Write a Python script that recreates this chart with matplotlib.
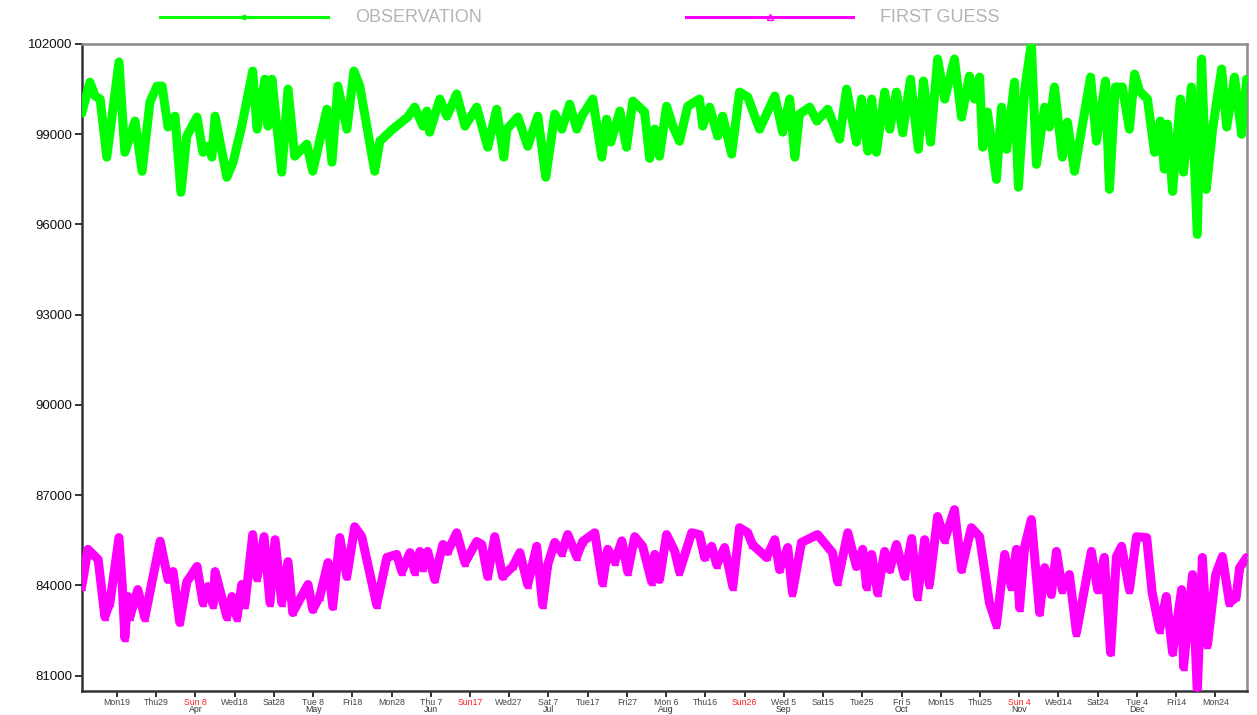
import numpy as np
import pandas as pd
import matplotlib
matplotlib.use("Agg")
import matplotlib.pyplot as plt
from matplotlib.lines import Line2D

plt.rcParams['font.family'] = ['Liberation Sans', 'DejaVu Sans']

# ---------------- data ----------------
start_date = "2018-03-10"
end_date = "2019-01-01"

# days since start_date, observation series (Pa)
obs_day = [0.0, 2.1, 3.4, 4.7, 6.4, 9.5, 11.0, 13.6, 15.4, 17.4,
           19.2, 20.5, 22.0, 23.8, 25.3, 26.8, 29.4, 30.9, 32.2, 33.2,
           34.0, 37.0, 38.6, 40.8, 43.6, 44.7, 46.7, 47.5, 48.5, 51.0,
           52.6, 54.3, 57.4, 58.9, 62.5, 63.8, 65.3, 67.6, 69.4, 70.9,
           74.7, 76.0, 79.3, 83.1, 84.9, 87.0, 88.0, 88.7, 91.3, 93.1,
           95.6, 97.7, 100.7, 103.5, 105.8, 107.6, 108.4, 111.2, 113.7, 116.3,
           118.3, 120.6, 122.4, 124.4, 126.2, 127.5, 130.3, 132.6, 133.8, 134.9,
           137.2, 138.9, 140.5, 143.5, 144.8, 146.1, 147.3, 149.1, 150.7, 152.4,
           154.5, 157.5, 158.3, 160.1, 162.1, 163.4, 165.7, 167.7, 169.8, 172.8,
           176.7, 178.7, 180.5, 181.8, 183.0, 185.6, 187.4, 190.2, 193.2, 195.0,
           197.5, 198.8, 200.4, 201.4, 202.6, 204.7, 206.0, 207.7, 209.3, 211.3,
           213.3, 214.6, 216.4, 218.2, 220.0, 222.5, 224.3, 226.3, 227.6, 228.9,
           229.7, 230.9, 233.2, 234.5, 235.8, 237.8, 238.8, 240.4, 242.1, 243.4,
           245.5, 246.7, 248.0, 250.0, 251.3, 253.1, 257.2, 258.7, 260.0, 261.0,
           262.0, 263.5, 265.3, 267.1, 268.4, 269.7, 271.7, 273.5, 275.0, 276.0,
           276.8, 278.1, 280.1, 280.9, 282.9, 284.4, 285.5, 286.7, 288.3, 290.6,
           291.9, 293.9, 295.7, 297.0]
obs_val = [99700, 100730, 100270, 100170, 98240, 101400, 98400, 99440, 97770, 100070,
           100600, 100600, 99240, 99600, 97070, 98940, 99570, 98400, 98600, 98240,
           99600, 97570, 98070, 99270, 101100, 99170, 100830, 99270, 100830, 97740,
           100500, 98270, 98670, 97770, 99830, 98070, 100600, 99170, 101100, 100600,
           97770, 98770, 99170, 99570, 99900, 99270, 99770, 99070, 100170, 99600,
           100340, 99270, 99900, 98570, 99830, 98240, 99170, 99570, 98600, 99600,
           97570, 99670, 99170, 100000, 99170, 99600, 100170, 98240, 99500, 98740,
           99770, 98570, 100100, 99740, 98200, 99170, 98270, 99930, 99270, 98770,
           99930, 100170, 99270, 99900, 98940, 99600, 98340, 100400, 100240, 99170,
           100270, 99070, 100170, 98240, 99670, 99900, 99440, 99830, 98840, 100500,
           98740, 100170, 98440, 100170, 98400, 100400, 99170, 100400, 99050, 100830,
           98500, 100770, 98740, 101500, 100170, 101500, 99570, 100930, 100170, 100900,
           98570, 99740, 97500, 99900, 98500, 100730, 97240, 100500, 102000, 98000,
           99900, 99240, 100570, 98240, 99400, 97770, 100900, 98770, 99930, 100770,
           97170, 100570, 100570, 99170, 101000, 100430, 100170, 98400, 99440, 97840,
           99340, 97100, 100170, 97740, 100570, 95670, 101500, 97170, 99170, 101170,
           99240, 100900, 99000, 100830]

# days since start_date, first guess series (Pa)
fg_day = [0.0, 1.6, 4.2, 5.9, 7.2, 9.5, 10.3, 11.0, 11.8, 12.3,
          14.3, 16.1, 20.0, 22.0, 23.3, 25.0, 26.8, 29.4, 30.9, 32.2,
          33.5, 34.0, 37.0, 38.3, 39.6, 40.8, 41.6, 43.6, 44.7, 46.5,
          48.0, 49.3, 51.0, 52.6, 53.8, 57.7, 58.9, 60.7, 62.8, 64.0,
          65.8, 67.6, 69.6, 71.4, 75.2, 77.8, 80.3, 81.6, 83.7, 84.9,
          86.2, 87.0, 88.2, 90.0, 90.8, 92.1, 93.3, 95.6, 97.7, 100.7,
          102.0, 103.5, 105.3, 107.3, 109.9, 111.7, 113.7, 116.0, 117.5, 118.8,
          120.6, 122.4, 123.9, 126.2, 127.7, 130.8, 132.8, 134.1, 135.9, 137.7,
          139.2, 141.0, 143.0, 145.3, 146.1, 147.3, 149.1, 151.2, 152.4, 155.5,
          157.5, 158.8, 160.6, 161.9, 163.9, 166.0, 167.7, 169.8, 171.0, 174.6,
          176.7, 177.9, 180.0, 181.2, 183.5, 187.6, 191.4, 192.7, 195.3, 197.5,
          199.1, 200.1, 201.4, 202.9, 204.7, 206.0, 207.7, 209.8, 211.6, 213.1,
          214.9, 216.1, 218.2, 220.0, 222.5, 224.3, 226.8, 228.9, 231.4, 233.2,
          235.3, 237.0, 238.3, 239.1, 240.4, 242.1, 244.2, 245.5, 247.2, 248.5,
          250.0, 251.8, 253.6, 257.4, 259.0, 260.7, 262.3, 263.8, 265.1, 267.1,
          268.9, 271.5, 272.9, 274.8, 276.5, 278.1, 280.4, 280.9, 283.2, 284.4,
          285.7, 287.0, 289.1, 290.8, 292.6, 294.3, 295.2, 297.0]
fg_val = [83960, 85200, 84860, 82960, 83430, 85590, 84090, 82260, 83630, 82960,
          83860, 82930, 85470, 84200, 84460, 82770, 84120, 84630, 83430, 83960,
          83360, 84460, 82960, 83630, 82930, 84030, 83360, 85690, 84260, 85620,
          83430, 85520, 83430, 84790, 83100, 84030, 83200, 83630, 84760, 83300,
          85590, 84300, 85950, 85620, 83360, 84930, 85030, 84460, 85090, 84460,
          85130, 84590, 85130, 84200, 84690, 85360, 85130, 85750, 84760, 85460,
          85360, 84300, 85620, 84300, 84630, 85090, 84030, 85300, 83360, 84690,
          85430, 85090, 85690, 84960, 85460, 85750, 84090, 85200, 84790, 85480,
          84460, 85620, 85300, 84130, 85030, 84200, 85690, 85130, 84460, 85750,
          85690, 84930, 85300, 84690, 85260, 83960, 85920, 85750, 85360, 84930,
          85520, 84530, 85260, 83760, 85430, 85690, 85090, 84130, 85750, 84630,
          85200, 83960, 85030, 83760, 85130, 84530, 85360, 84300, 85560, 83630,
          85520, 84030, 86290, 85520, 86520, 84530, 85920, 85620, 83430, 82700,
          85030, 83960, 85200, 83260, 85300, 86190, 83100, 84590, 83700, 85130,
          83860, 84360, 82430, 85130, 83860, 84930, 81770, 84960, 85300, 83860,
          85620, 85590, 83760, 82530, 83630, 81770, 83860, 81300, 84360, 80430,
          84930, 82030, 84360, 84960, 83430, 83600, 84590, 84930]

series_names = ["OBSERVATION", "FIRST GUESS"]
series_colors = ["#00ff00", "#ff00ff"]

y_ticks = [81000, 84000, 87000, 90000, 93000, 96000, 99000, 102000]
first_tick_date = "2018-03-19"
tick_step_days = 10
tick_labels = ["Mon19", "Thu29", "Sun 8", "Wed18", "Sat28", "Tue 8", "Fri18", "Mon28",
               "Thu 7", "Sun17", "Wed27", "Sat 7", "Tue17", "Fri27", "Mon 6", "Thu16",
               "Sun26", "Wed 5", "Sat15", "Tue25", "Fri 5", "Mon15", "Thu25", "Sun 4",
               "Wed14", "Sat24", "Tue 4", "Fri14", "Mon24"]
month_labels = ["", "", "Apr", "", "", "May", "", "", "Jun", "", "", "Jul", "", "",
                "Aug", "", "", "Sep", "", "", "Oct", "", "", "Nov", "", "", "Dec", "", ""]

# ---------------- figure ----------------
W, H = 1257, 715
fig = plt.figure(figsize=(W / 100, H / 100), dpi=100)
ax = fig.add_axes([81.7 / W, 1 - 690.7 / H, (1246.7 - 81.7) / W, (690.7 - 44.0) / H])

t0 = pd.Timestamp(start_date)
obs_t = t0 + pd.to_timedelta(np.array(obs_day), unit="D")
fg_t = t0 + pd.to_timedelta(np.array(fg_day), unit="D")

ax.plot(obs_t, obs_val, color=series_colors[0], lw=6.5, solid_joinstyle="round",
        solid_capstyle="round", marker="o", ms=4, mec=series_colors[0], zorder=3)
ax.plot(fg_t, fg_val, color=series_colors[1], lw=6.5, solid_joinstyle="round",
        solid_capstyle="round", marker="^", ms=5, mfc="none", mec=series_colors[1], zorder=3)

ax.set_xlim(pd.Timestamp(start_date), pd.Timestamp(end_date))
ax.set_ylim(80500, 102000)

ax.set_yticks(y_ticks)
ax.set_yticklabels([str(v) for v in y_ticks], fontsize=9.5, color="#111111")

tick_dates = pd.Timestamp(first_tick_date) + pd.to_timedelta(
    np.arange(len(tick_labels)) * tick_step_days, unit="D")
ax.set_xticks(tick_dates)
ax.set_xticklabels(tick_labels, fontsize=6.3)
for lbl, txt in zip(ax.get_xticklabels(), tick_labels):
    lbl.set_color("#ff2020" if txt.startswith("Sun") else "#444444")
for d, m in zip(tick_dates, month_labels):
    if m:
        ax.annotate(m, xy=(d, 0), xycoords=("data", "axes fraction"),
                    xytext=(0, -10.2), textcoords="offset points",
                    ha="center", va="top", fontsize=6.3, color="#333333",
                    annotation_clip=False)

ax.tick_params(axis="x", direction="out", length=4, width=1.3, pad=1, color="#222222")
ax.tick_params(axis="y", direction="out", length=5, width=1.3, pad=2, color="#222222")

for side in ("left", "bottom"):
    ax.spines[side].set_color("#333333")
    ax.spines[side].set_linewidth(1.8)
for side in ("top", "right"):
    ax.spines[side].set_color("#8a8a8a")
    ax.spines[side].set_linewidth(1.8)

# ---------------- legend (top, manual) ----------------
ly = 1 - 17 / H
leg = [(160, 328, 355, "o", 3, series_colors[0]),
       (686, 853, 880, "^", 4.5, "none")]
for (x0, x1, xt, mk, ms, mfc), name, col in zip(leg, series_names, series_colors):
    fig.add_artist(Line2D([x0 / W, x1 / W], [ly, ly], transform=fig.transFigure,
                          color=col, lw=2.2))
    fig.add_artist(Line2D([(x0 + x1) / 2 / W], [ly], transform=fig.transFigure,
                          color=col, marker=mk, ms=ms, mfc=mfc, mec=col, lw=0))
    fig.text(xt / W, ly, name, fontsize=13, color="#b4b4b4", ha="left", va="center")

fig.savefig("out.png", dpi=100)
